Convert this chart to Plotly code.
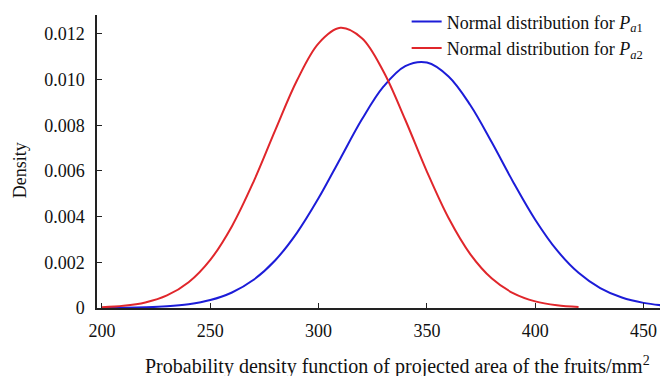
import plotly.graph_objects as go

# Projected area of the fruits (mm^2) at which each density was sampled
area_a1 = [200, 210, 220, 230, 240, 250, 260, 270, 280, 290, 300, 310, 320, 330,
           340, 350, 360, 370, 380, 390, 400, 410, 420, 430, 440, 450, 460]
density_a1 = [0.000004, 0.000011, 0.000030, 0.000073, 0.000165, 0.000347, 0.000680,
              0.001237, 0.002092, 0.003291, 0.004812, 0.006540, 0.008262, 0.009702,
              0.010591, 0.010747, 0.010136, 0.008888, 0.007245, 0.005488, 0.003865,
              0.002531, 0.001540, 0.000871, 0.000458, 0.000224, 0.000102]

area_a2 = [200, 210, 220, 230, 240, 250, 260, 270, 280, 290, 300, 310, 320, 330,
           340, 350, 360, 370, 380, 390, 400, 410, 420]
density_a2 = [0.000036, 0.000098, 0.000244, 0.000550, 0.001129, 0.002108, 0.003584,
              0.005537, 0.007787, 0.009962, 0.011591, 0.012269, 0.011814, 0.010347,
              0.008244, 0.005975, 0.003939, 0.002362, 0.001289, 0.000640, 0.000289,
              0.000119, 0.000044]

x_ticks = [200, 250, 300, 350, 400, 450]
y_ticks = [0, 0.002, 0.004, 0.006, 0.008, 0.010, 0.012]
y_tick_text = ["0", "0.002", "0.004", "0.006", "0.008", "0.010", "0.012"]

name_a1 = "Normal distribution for <i>P</i><sub><i>a</i>1</sub>"
name_a2 = "Normal distribution for <i>P</i><sub><i>a</i>2</sub>"

FONT = "Liberation Serif"
BLUE = "#1c1cd8"
RED = "#e0262b"

fig = go.Figure()
fig.add_trace(go.Scatter(x=area_a1, y=density_a1, mode="lines", name=name_a1,
                         line=dict(color=BLUE, width=2, shape="spline", smoothing=1)))
fig.add_trace(go.Scatter(x=area_a2, y=density_a2, mode="lines", name=name_a2,
                         line=dict(color=RED, width=2, shape="spline", smoothing=1)))

fig.update_layout(
    width=660, height=376,
    margin=dict(l=97, r=0, t=15, b=68),
    paper_bgcolor="white", plot_bgcolor="white",
    font=dict(family=FONT, size=18, color="#111"),
    showlegend=True,
    legend=dict(x=0.55, y=1.04, xanchor="left", yanchor="top",
                bgcolor="rgba(0,0,0,0)", font=dict(family=FONT, size=18),
                itemwidth=30, tracegroupgap=0),
    xaxis=dict(range=[197.7, 457.6], tickmode="array", tickvals=x_ticks,
               ticks="inside", ticklen=5, tickwidth=1.2, tickcolor="#222",
               showline=True, linecolor="#222", linewidth=1.5,
               showgrid=False, zeroline=False, ticklabelstandoff=6,
               tickfont=dict(family=FONT, size=18)),
    yaxis=dict(range=[0, 0.01283], tickmode="array", tickvals=y_ticks,
               ticktext=y_tick_text,
               ticks="inside", ticklen=5, tickwidth=1.2, tickcolor="#222",
               showline=True, linecolor="#222", linewidth=1.5,
               showgrid=False, zeroline=False, ticklabelstandoff=7,
               tickfont=dict(family=FONT, size=18)),
)

fig.add_annotation(text="Density", textangle=-90, xref="paper", yref="paper",
                   x=-0.137, y=0.47, xanchor="center", yanchor="middle",
                   showarrow=False, font=dict(family=FONT, size=18))
fig.add_annotation(text="Probability density function of projected area of the fruits/mm<sup>2</sup>",
                   xref="paper", yref="paper", x=0.533, y=-0.195,
                   xanchor="center", yanchor="middle", showarrow=False,
                   font=dict(family=FONT, size=20))

fig.write_html("out.html")
